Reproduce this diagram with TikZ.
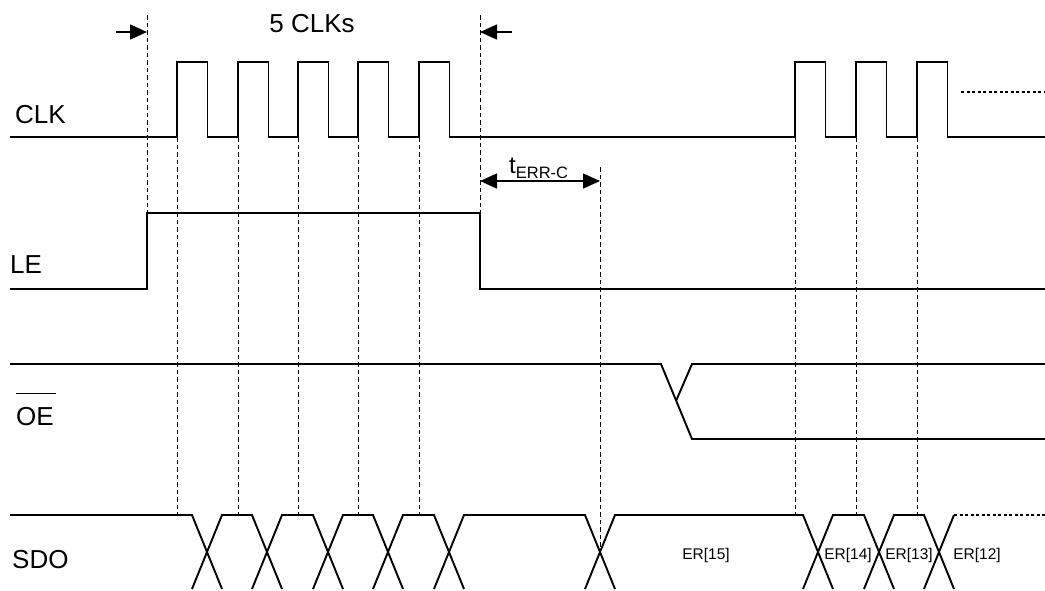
\documentclass[tikz,border=0pt]{standalone}
\usepackage{fontspec}
\setmainfont{Liberation Sans}
\usetikzlibrary{arrows.meta}

\begin{document}
\begin{tikzpicture}[x=1pt, y=-1pt,
        wave/.style={line width=1.9pt, line join=miter},
        guide/.style={line width=0.9pt, dash pattern=on 4.5pt off 3pt},
        dots/.style={line width=1.4pt, dash pattern=on 3pt off 2.5pt},
        sig/.style={font=\fontsize{26}{26}\selectfont, anchor=base west, inner sep=0pt},
        bit/.style={font=\fontsize{15.5}{16}\selectfont, anchor=base, inner sep=0pt},
        dim/.style={line width=1.5pt, -{Triangle[length=17pt, width=15pt]}},
        dimboth/.style={line width=1.5pt, {Triangle[length=17pt, width=15pt]}-{Triangle[length=17pt, width=15pt]}}]
    \useasboundingbox (0,0) rectangle (1045,590);

    % signal names
    \node[sig] (clk) at (15,123) {CLK};
    \node[sig] (le) at (10,273) {LE};
    \node[sig] (oe) at (16,425) {OE};
    \node[sig] (sdo) at (12,568) {SDO};
    \draw[line width=1.4pt] ([yshift=13pt]oe.north west) -- ([yshift=13pt, xshift=2pt]oe.north east);

    % clock
    \draw[wave] (10,137)
        \foreach \r in {177,238,298,358,419,795,856,917} { -- (\r,137) -- (\r,62) -- (\r+30.5,62) -- (\r+30.5,137) }
        -- (1045,137);
    \draw[dots] (961,92) -- (1045,92);

    % latch enable
    \coordinate (le-up) at (147,213);
    \coordinate (le-down) at (480,213);
    \draw[wave] (10,289) -- (147,289) -- (le-up) -- (le-down) -- (480,289) -- (1045,289);

    % output enable
    \coordinate (oe-x) at (676,401);
    \draw[wave] (10,364) -- (661,364) -- (692,439) -- (1045,439);
    \draw[wave] (oe-x) -- (692,364) -- (1045,364);

    % serial data out
    \draw[wave] (10,515) -- (192,515) -- (222,589);
    \foreach \a/\b in {222/252, 282/313, 343/373, 403/434, 464/585, 615/803, 833/864, 894/924}
        \draw[wave] (\a-30,589) -- (\a,515) -- (\b,515) -- (\b+30,589);
    \draw[wave] (924,589) -- (954,515);
    \draw[dots] (954,515) -- (1045,515);
    \node[bit] (er15) at (706,559) {ER[15]};
    \node[bit] (er14) at (848,559) {ER[14]};
    \node[bit] (er13) at (909,559) {ER[13]};
    \node[bit] (er12) at (977,559) {ER[12]};

    % guide lines
    \foreach \r in {177,238,298,358,419,795,856,917}
        \draw[guide] (\r,137) -- (\r,515);
    \coordinate (g-start) at (147,15);
    \coordinate (g-end) at (480,15);
    \coordinate (g-err) at (600,167);
    \coordinate (sdo-x) at (600,552);
    \draw[guide] (g-start) -- (le-up);
    \draw[guide] (g-end) -- (le-down);
    \draw[guide] (g-err) -- (sdo-x);

    % timing marks
    \coordinate (a-left) at (116,32);
    \coordinate (a-right) at (512,32);
    \draw[dim] (a-left) -- (147,32);
    \draw[dim] (a-right) -- (480,32);
    \node[sig, anchor=base] (nclk) at (312,32) {5 CLKs};
    \coordinate (err-l) at (480,181);
    \coordinate (err-r) at (600,181);
    \draw[dimboth] (err-l) -- (err-r);
    \node[anchor=base west, inner sep=0pt, font=\fontsize{24}{24}\selectfont] (terr) at (509,173)
        {t\raisebox{-5pt}{\fontsize{16.5}{16.5}\selectfont ERR-C}};
\end{tikzpicture}
\end{document}
